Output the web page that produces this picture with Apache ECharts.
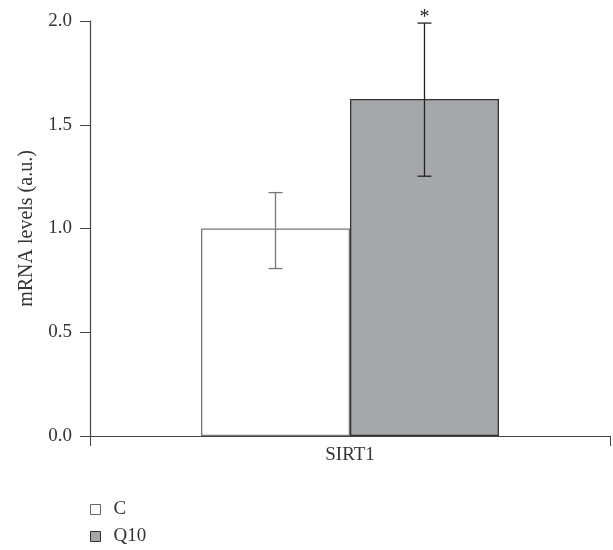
<!DOCTYPE html>
<html><head><meta charset="utf-8">
<script src="https://cdn.jsdelivr.net/npm/echarts@6/dist/echarts.min.js"></script>
<style>html,body{margin:0;padding:0;background:#fff}#c{width:613px;height:550px}</style>
</head><body><div id="c"></div>
<script>
const categories = ['SIRT1'];
const seriesNames = ['C', 'Q10'];
const meanC = [1.0];
const meanQ10 = [1.624];
const errLowC = [0.807];
const errHighC = [1.173];
const errLowQ10 = [1.252];
const errHighQ10 = [1.99];
const sigC = [''];
const sigQ10 = ['*'];
const yTicks = [0, 0.5, 1.0, 1.5, 2.0];

const FONT = 'Liberation Serif';
const FS = 19;
const barFrac = 0.2865;

function errSeries(name, lows, highs, sigs, sideSign, color) {
  return {
    type: 'custom',
    name: name + '_err',
    z: 5,
    data: categories.map((c, i) => [i, lows[i], highs[i], sigs[i]]),
    renderItem: function (params, api) {
      const band = api.size([1, 0])[0];
      const off = sideSign * band * barFrac / 2;
      const lo = api.coord([api.value(0), api.value(1)]);
      const hi = api.coord([api.value(0), api.value(2)]);
      const x = lo[0] + off;
      const cap = 7;
      const st = { stroke: color, lineWidth: 1.3 };
      const children = [
        { type: 'line', shape: { x1: x, y1: lo[1], x2: x, y2: hi[1] }, style: st },
        { type: 'line', shape: { x1: x - cap, y1: lo[1], x2: x + cap, y2: lo[1] }, style: st },
        { type: 'line', shape: { x1: x - cap, y1: hi[1], x2: x + cap, y2: hi[1] }, style: st }
      ];
      const s = api.value(3);
      if (s) {
        children.push({ type: 'text', style: { text: s, x: x, y: hi[1] + 5, textAlign: 'center', textVerticalAlign: 'bottom', fill: '#222', font: '20px ' + FONT } });
      }
      return { type: 'group', children: children };
    }
  };
}

const chart = echarts.init(document.getElementById('c'), null, { renderer: 'canvas' });
chart.setOption({
  animation: false,
  textStyle: { fontFamily: FONT },
  grid: { left: 90, right: 3, top: 21, bottom: 114 },
  legend: {
    orient: 'vertical', left: 90, top: 500, padding: 0, itemWidth: 10, itemHeight: 10, itemGap: 8,
    textStyle: { fontFamily: FONT, fontSize: FS, color: '#333', padding: [0, 0, 0, 8] },
    data: [
      { name: 'C', icon: 'rect', itemStyle: { color: '#fff', borderColor: '#666', borderWidth: 1 } },
      { name: 'Q10', icon: 'rect', itemStyle: { color: '#a6a7aa', borderColor: '#333', borderWidth: 1 } }
    ]
  },
  xAxis: {
    type: 'category', data: categories,
    axisLine: { lineStyle: { color: '#444', width: 1.2 } },
    axisTick: { show: true, length: 10, lineStyle: { color: '#444' } },
    axisLabel: { fontFamily: FONT, fontSize: FS, color: '#333', margin: 10 }
  },
  yAxis: {
    type: 'value', min: 0, max: 2, interval: 0.5,
    name: 'mRNA levels (a.u.)', nameLocation: 'middle', nameGap: 53, nameRotate: 90,
    nameTextStyle: { fontFamily: FONT, fontSize: 20, color: '#333' },
    axisLine: { show: true, lineStyle: { color: '#444', width: 1.2 } },
    axisTick: { show: true, length: 10, lineStyle: { color: '#444' } },
    splitLine: { show: false },
    axisLabel: { fontFamily: FONT, fontSize: FS, color: '#333', margin: 18, formatter: v => v.toFixed(1) }
  },
  series: [
    { type: 'bar', name: seriesNames[0], data: meanC, barWidth: (barFrac * 100) + '%', barGap: '0%',
      itemStyle: { color: '#fff', borderColor: '#777', borderWidth: 1.3 } },
    { type: 'bar', name: seriesNames[1], data: meanQ10, barWidth: (barFrac * 100) + '%', barGap: '0%',
      itemStyle: { color: '#a6a7aa', borderColor: '#333', borderWidth: 1.3 } },
    errSeries('C', errLowC, errHighC, sigC, -1, '#777'),
    errSeries('Q10', errLowQ10, errHighQ10, sigQ10, 1, '#222')
  ]
});
</script></body></html>
